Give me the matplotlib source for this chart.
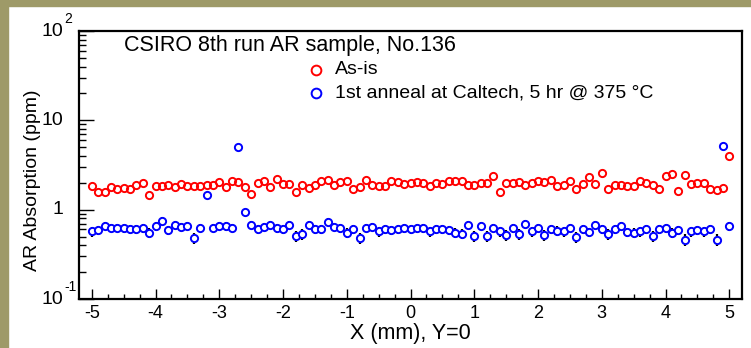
import numpy as np
import matplotlib
matplotlib.use("Agg")
import matplotlib.pyplot as plt
from matplotlib.patches import Rectangle
from matplotlib.ticker import FixedLocator, LogLocator, NullFormatter, FixedFormatter

plt.rcParams['font.family'] = ['Liberation Sans', 'DejaVu Sans']

x_mm = np.round(np.arange(-50, 51) / 10.0, 1)

as_is = [1.83, 1.57, 1.58, 1.80, 1.71, 1.75, 1.71, 1.89, 1.99, 1.46,
         1.83, 1.83, 1.89, 1.80, 1.96, 1.85, 1.83, 1.83, 1.88, 1.89,
         2.03, 1.81, 2.08, 2.06, 1.78, 1.49, 1.98, 2.10, 1.81, 2.19,
         1.93, 1.93, 1.59, 1.89, 1.74, 1.89, 2.12, 2.14, 1.88, 2.06,
         2.10, 1.71, 1.78, 2.14, 1.89, 1.83, 1.83, 2.10, 2.03, 1.94,
         1.98, 2.05, 1.98, 1.83, 2.01, 1.96, 2.12, 2.08, 2.12, 1.88,
         1.88, 2.01, 2.01, 2.37, 1.59, 1.98, 2.01, 2.06, 1.89, 2.01,
         2.10, 2.03, 2.15, 1.86, 1.88, 2.08, 1.72, 1.94, 2.33, 1.96,
         2.58, 1.72, 1.88, 1.89, 1.85, 1.86, 2.10, 2.01, 1.88, 1.71,
         2.37, 2.54, 1.61, 2.47, 1.94, 1.98, 1.98, 1.71, 1.66, 1.77,
         4.01]

annealed = [0.57, 0.59, 0.66, 0.63, 0.63, 0.62, 0.60, 0.61, 0.62, 0.55,
            0.65, 0.75, 0.59, 0.68, 0.64, 0.66, 0.48, 0.63, 1.47, 0.63,
            0.66, 0.65, 0.63, 4.97, 0.94, 0.67, 0.61, 0.64, 0.68, 0.62,
            0.61, 0.68, 0.51, 0.53, 0.68, 0.60, 0.61, 0.73, 0.64, 0.62,
            0.55, 0.61, 0.48, 0.63, 0.64, 0.57, 0.61, 0.59, 0.60, 0.62,
            0.60, 0.62, 0.62, 0.57, 0.60, 0.61, 0.59, 0.55, 0.54, 0.68,
            0.51, 0.66, 0.51, 0.63, 0.57, 0.52, 0.62, 0.53, 0.70, 0.57,
            0.63, 0.52, 0.60, 0.58, 0.57, 0.63, 0.49, 0.60, 0.56, 0.68,
            0.60, 0.53, 0.61, 0.66, 0.56, 0.55, 0.57, 0.60, 0.51, 0.61,
            0.62, 0.55, 0.59, 0.46, 0.57, 0.59, 0.57, 0.61, 0.46, 5.15,
            0.65]

annealed_err = 0.07

x_ticks = [-5, -4, -3, -2, -1, 0, 1, 2, 3, 4, 5]
x_ticklabels = ['-5', '-4', '-3', '-2', '-1', '0', '1', '2', '3', '4', '5']

y_major = [0.1, 1, 10, 100]
y_base_labels = ['10', '1', '10', '10']
y_exp_labels = ['-1', '', '', '2']

title = "CSIRO 8th run AR sample, No.136"
label_red = "As-is"
label_blue = "1st anneal at Caltech, 5 hr @ 375 \u00b0C"

W, H = 751, 348
fig = plt.figure(figsize=(W / 100, H / 100), dpi=100)
fig.patch.set_facecolor('white')

# slide background strips
olive = '#9e9a68'
fig.add_artist(Rectangle((0, 0), 8 / W, 1, transform=fig.transFigure, color=olive, zorder=0))
fig.add_artist(Rectangle((0, 1 - 6 / H), 1, 6 / H, transform=fig.transFigure, color=olive, zorder=0))

left, right, bottom, top = 79, 742, 299, 31
ax = fig.add_axes([left / W, 1 - bottom / H, (right - left) / W, (bottom - top) / H])
ax.set_yscale('log')
ax.set_xlim(-5.2, 5.2)
ax.set_ylim(0.1, 100)

ax.errorbar(x_mm, annealed, yerr=annealed_err, fmt='none', ecolor='black',
            elinewidth=1.6, capsize=0, zorder=2)
ax.plot(x_mm, as_is, linestyle='none', marker='o', markersize=5.2,
        markerfacecolor='none', markeredgecolor='#ff0000', markeredgewidth=1.4, zorder=3)
ax.plot(x_mm, annealed, linestyle='none', marker='o', markersize=5.2,
        markerfacecolor='white', markeredgecolor='#0000ff', markeredgewidth=1.4, zorder=3)

for s in ax.spines.values():
    s.set_linewidth(1.6)

ax.xaxis.set_major_locator(FixedLocator(x_ticks))
ax.xaxis.set_major_formatter(FixedFormatter(x_ticklabels))
ax.xaxis.set_minor_locator(FixedLocator(np.arange(-5.0, 5.01, 0.25)))
ax.tick_params(axis='x', which='major', direction='in', length=7, width=1.0,
               labelsize=13, pad=4, top=False)
ax.tick_params(axis='x', which='minor', direction='in', length=3.5, width=1.0, top=False)

ax.yaxis.set_major_locator(FixedLocator(y_major))
ax.yaxis.set_major_formatter(NullFormatter())
ax.yaxis.set_minor_locator(LogLocator(base=10, subs=np.arange(2, 10)))
ax.yaxis.set_minor_formatter(NullFormatter())
ax.tick_params(axis='y', which='major', direction='in', length=11, width=1.0, right=False)
ax.tick_params(axis='y', which='minor', direction='in', length=5, width=1.0, right=False)

# ROOT-style y tick labels: base number plus raised exponent
for yv, base, exp in zip(y_major, y_base_labels, y_exp_labels):
    ax.annotate(base, xy=(0, yv), xycoords=('axes fraction', 'data'),
                xytext=(-16, -1 if exp == '-1' else 0), textcoords='offset pixels',
                ha='right', va='center', fontsize=14, annotation_clip=False)
    if exp:
        ax.annotate(exp, xy=(0, yv), xycoords=('axes fraction', 'data'),
                    xytext=(-15, 12), textcoords='offset pixels',
                    ha='left', va='center', fontsize=10, annotation_clip=False)

ax.set_xlabel("X (mm), Y=0", fontsize=15.5, labelpad=1)
fig.text(33 / W, 1 - 180 / H, "AR Absorption (ppm)", rotation=90, ha='center',
         va='center', fontsize=14)

fig.text(124 / W, 1 - 46 / H, title, ha='left', va='center', fontsize=15.5)
fig.lines.append(plt.Line2D([316 / W], [1 - 70 / H], transform=fig.transFigure,
                            marker='o', markersize=7, markerfacecolor='none',
                            markeredgecolor='#ff0000', markeredgewidth=1.4, linestyle='none'))
fig.lines.append(plt.Line2D([316 / W], [1 - 93 / H], transform=fig.transFigure,
                            marker='o', markersize=7, markerfacecolor='none',
                            markeredgecolor='#0000ff', markeredgewidth=1.4, linestyle='none'))
fig.text(335 / W, 1 - 70 / H, label_red, ha='left', va='center', fontsize=14)
fig.text(335 / W, 1 - 93 / H, label_blue, ha='left', va='center', fontsize=14)

fig.savefig('out.png', dpi=100, facecolor=fig.get_facecolor())
